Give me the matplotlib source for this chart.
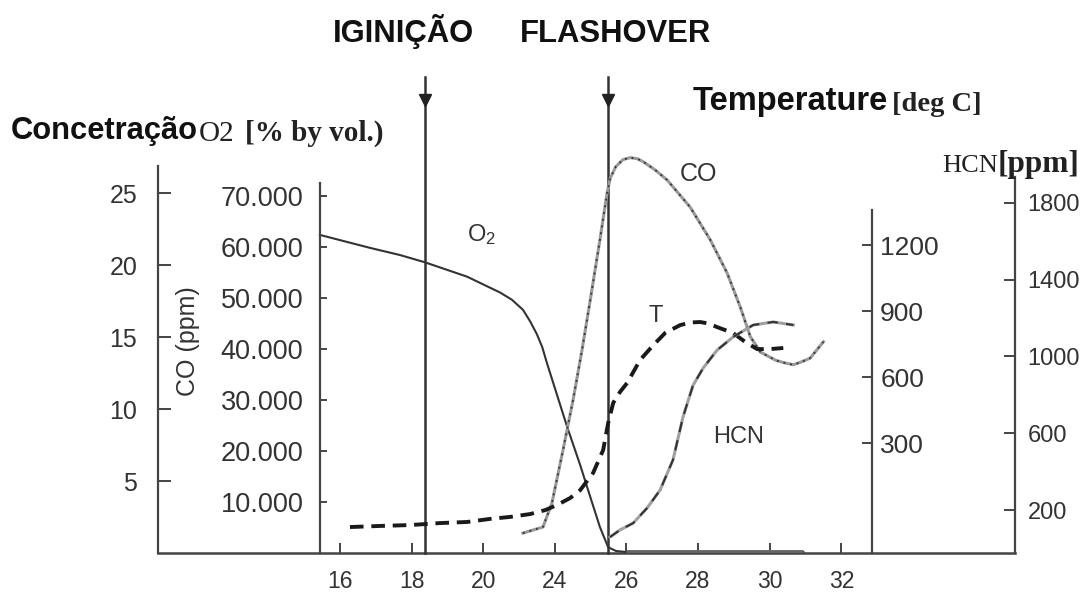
import numpy as np
import matplotlib.pyplot as plt

plt.rcParams['font.family'] = ['Liberation Sans', 'DejaVu Sans']
plt.rcParams['mathtext.fontset'] = 'custom'
plt.rcParams['mathtext.rm'] = 'Liberation Sans'
plt.rcParams['mathtext.it'] = 'Liberation Sans'

# ------------------------------------------------------------
# data
# x axis: evenly spaced positions, labels as printed (22 is missing)
# ------------------------------------------------------------
x_tick_pos = [16, 18, 20, 22, 24, 26, 28, 30]
x_tick_labels = ['16', '18', '20', '24', '26', '28', '30', '32']

ignition_time = 18.37
flashover_time = 23.49

o2_time = [15.44, 16.84, 17.68, 18.37, 19.55, 20.47, 20.80, 21.11, 21.31, 21.50,
           21.65, 21.78, 21.92, 22.06, 22.34, 22.71, 22.99, 23.26, 23.49, 23.71,
           23.99, 26.06, 28.94]
o2_pct = [22.1, 21.2, 20.7, 20.2, 19.2, 18.1, 17.6, 16.9, 16.1, 15.2,
          14.3, 13.2, 12.1, 11.0, 8.8, 6.1, 3.9, 1.8, 0.4, 0.14,
          0.07, 0.07, 0.07]

co_time = [21.11, 21.67, 21.92, 22.23, 22.51, 22.76, 22.99, 23.26, 23.46, 23.55,
           23.70, 23.90, 24.10, 24.30, 24.47, 24.80, 25.14, 25.78, 26.34, 26.81,
           27.18, 27.46, 27.74, 27.95, 28.16, 28.40, 28.66, 28.90, 29.13, 29.50]
co_ppm = [3900, 5100, 9800, 20200, 30000, 39800, 49600, 61400, 70600, 73500,
          75700, 77100, 77500, 77300, 76700, 75100, 73100, 67800, 61400, 54900,
          48200, 42400, 39400, 38600, 37800, 37300, 36900, 37500, 38200, 41400]

temp_time = [16.28, 17.12, 17.96, 18.79, 19.55, 20.19, 20.75, 21.31, 21.73, 22.06,
             22.43, 22.71, 23.07, 23.35, 23.49, 23.63, 23.82, 24.02, 24.38, 24.75,
             25.08, 25.50, 25.80, 26.06, 26.30, 26.53, 26.98, 27.32, 27.65, 28.01,
             28.38]
temp_c = [-82, -77, -73, -64, -59, -45, -36, -23, -5, 18,
          50, 86, 164, 268, 391, 482, 532, 573, 677, 745,
          800, 836, 848, 850, 843, 827, 800, 759, 727, 727,
          732]

hcn_time = [23.54, 23.82, 24.19, 24.58, 24.94, 25.30, 25.58, 25.86, 26.14, 26.53,
            26.98, 27.54, 28.10, 28.66]
hcn_ppm = [59, 96, 132, 211, 304, 461, 685, 850, 939, 1033,
           1102, 1164, 1180, 1164]

o2_ticks = [5, 10, 15, 20, 25]
co_ticks = [10000, 20000, 30000, 40000, 50000, 60000, 70000]
co_tick_labels = ['10.000', '20.000', '30.000', '40.000', '50.000', '60.000', '70.000']
temp_ticks = [300, 600, 900, 1200]
hcn_ticks = [200, 600, 1000, 1400, 1800]

W, H = 1091, 595
axis_col = '#444444'
text_col = '#333333'

fig = plt.figure(figsize=(W / 100, H / 100), dpi=100)
ax = fig.add_axes([158 / W, 42 / H, 857 / W, 403 / H])


def fx(px):
    return px / W


def fy(py):
    return 1 - py / H


def style_axis(a, side, pos, bounds, ylim, ticks, labels, size, length, pad):
    a.set_ylim(*ylim)
    for s in a.spines.values():
        s.set_visible(False)
    sp = a.spines[side]
    sp.set_visible(True)
    sp.set_position(('axes', pos))
    sp.set_bounds(*bounds)
    sp.set_color(axis_col)
    sp.set_linewidth(1.6)
    a.yaxis.set_ticks_position(side)
    a.yaxis.set_label_position(side)
    a.set_yticks(ticks)
    a.set_yticklabels(labels)
    a.tick_params(axis='y', direction='in', length=length, width=1.4,
                  color=axis_col, labelsize=size, labelcolor=text_col, pad=pad)


# O2 (host)
ax.set_xlim(10.92, 34.85)
style_axis(ax, 'left', 0, (0, 26.9), (0, 28), o2_ticks,
           [str(t) for t in o2_ticks], 18, 9, 15)
ax.spines['bottom'].set_visible(True)
ax.spines['bottom'].set_color(axis_col)
ax.spines['bottom'].set_linewidth(1.8)
ax.set_xticks(x_tick_pos)
ax.set_xticklabels(x_tick_labels)
ax.tick_params(axis='x', direction='in', length=7, width=1.4, color=axis_col,
               labelsize=16.5, labelcolor=text_col, pad=12)

# CO
ax_co = ax.twinx()
style_axis(ax_co, 'left', 0.189, (0, 72500), (0, 79000), co_ticks,
           co_tick_labels, 19.5, 5, 12)
ax_co.text(0.035, 0.526, 'CO (ppm)', transform=ax_co.transAxes, rotation=90,
           ha='center', va='center', fontsize=18, color=text_col)

# temperature
ax_t = ax.twinx()
style_axis(ax_t, 'right', 0.833, (-200, 1359), (-200, 1632), temp_ticks,
           [str(t) for t in temp_ticks], 19, 7, 6)

# HCN
ax_h = ax.twinx()
style_axis(ax_h, 'right', 1.0, (-24, 1935), (-24, 2076), hcn_ticks,
           [str(t) for t in hcn_ticks], 17, 8, 9)

for a in (ax_co, ax_t, ax_h):
    a.patch.set_visible(False)

# curves
ax.plot(o2_time, o2_pct, color='#333333', lw=1.5, zorder=3)
tail = [i for i, t in enumerate(o2_time) if t >= flashover_time + 0.4]
ax.plot([o2_time[i] for i in tail], [o2_pct[i] for i in tail],
        color='#666666', lw=3.5, solid_capstyle='butt', zorder=3)

ax_co.plot(co_time, co_ppm, color='#9a9a9a', lw=2.2)
ax_co.plot(co_time, co_ppm, color='#3a3a3a', lw=1.4, dashes=(1, 2.5))

ax_t.plot(temp_time, temp_c, color='#1a1a1a', lw=2.8, dashes=(3.5, 2))

ax_h.plot(hcn_time, hcn_ppm, color='#a0a0a0', lw=2.2)
ax_h.plot(hcn_time, hcn_ppm, color='#333333', lw=1.5, dashes=(5, 4))

# event lines with arrows
for t in (ignition_time, flashover_time):
    ax.plot([t, t], [0, 33.06], color='#333333', lw=1.8, clip_on=False, zorder=4)
    ax.plot([t], [31.5], marker='v', ms=8, color='#222222', clip_on=False, zorder=4)

# curve labels
ax.text(19.95, 22.1, r'O$_2$', fontsize=17, color=text_col, ha='center', va='center')
ax.text(26.00, 26.3, 'CO', fontsize=18, color=text_col, ha='center', va='center')
ax.text(24.81, 16.5, 'T', fontsize=17, color=text_col, ha='center', va='center')
ax.text(27.12, 8.05, 'HCN', fontsize=17, color=text_col, ha='center', va='center')

# titles / axis headers
fig.text(fx(333), fy(42), 'IGINIÇÃO', fontsize=22.3, fontweight='bold',
         ha='left', va='baseline', color='#111111')
fig.text(fx(520), fy(42), 'FLASHOVER', fontsize=22.3, fontweight='bold',
         ha='left', va='baseline', color='#111111')
fig.text(fx(11), fy(139), 'Concetração', fontsize=22.2, fontweight='bold',
         ha='left', va='baseline', color='#111111')
fig.text(fx(199), fy(141), 'O2', fontsize=21, family='Liberation Serif',
         ha='left', va='baseline', color='#222222')
fig.text(fx(245), fy(141), '[% by vol.)', fontsize=21, family='Liberation Serif',
         fontweight='bold', ha='left', va='baseline', color='#222222')
fig.text(fx(693), fy(110), 'Temperature', fontsize=23.5, fontweight='bold',
         ha='left', va='baseline', color='#111111')
fig.text(fx(892), fy(111), '[deg C]', fontsize=20.5, family='Liberation Serif',
         fontweight='bold', ha='left', va='baseline', color='#222222')
fig.text(fx(942), fy(172), 'HCN', fontsize=19, family='Liberation Serif',
         ha='left', va='baseline', color='#222222')
fig.text(fx(998), fy(172), '[ppm]', fontsize=22.5, family='Liberation Serif',
         fontweight='bold', ha='left', va='baseline', color='#222222')

fig.savefig('out.png', dpi=100)
